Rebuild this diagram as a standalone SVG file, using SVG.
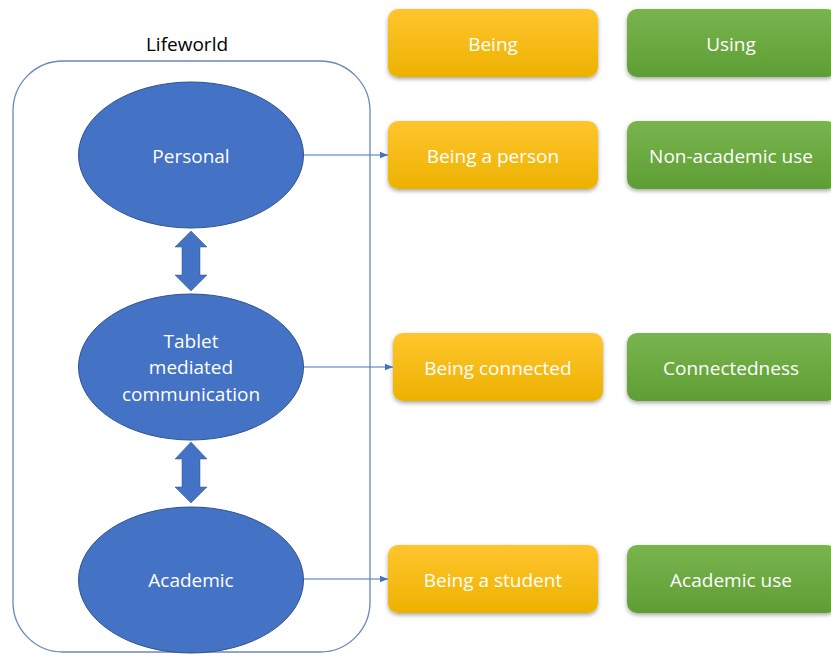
<svg xmlns="http://www.w3.org/2000/svg" width="831" height="655" viewBox="0 0 831 655">
<defs>
<linearGradient id="gy" x1="0" y1="0" x2="0" y2="1">
<stop offset="0" stop-color="#FFC52E"/><stop offset="1" stop-color="#EDB200"/>
</linearGradient>
<linearGradient id="gg" x1="0" y1="0" x2="0" y2="1">
<stop offset="0" stop-color="#79B54E"/><stop offset="1" stop-color="#5E9E34"/>
</linearGradient>
<filter id="sh" x="-10%" y="-20%" width="120%" height="150%">
<feDropShadow dx="0" dy="2" stdDeviation="2" flood-color="#000" flood-opacity="0.35"/>
</filter>
<marker id="ah" viewBox="0 0 10 10" refX="10" refY="5" markerWidth="8" markerHeight="8" markerUnits="userSpaceOnUse" orient="auto">
<path d="M0,1 L10,5 L0,9 z" fill="#4472C4"/>
</marker>
</defs>
<style>
.t{font-family:"Open Sans","Noto Sans",sans-serif;font-size:19px;fill:#fff;text-anchor:middle;dominant-baseline:central}
.e{fill:#4472C4;stroke:#2F528F;stroke-width:1}
.y{fill:url(#gy);filter:url(#sh)}
.g{fill:url(#gg);filter:url(#sh)}
.c{stroke:#4472C4;stroke-width:1;fill:none;marker-end:url(#ah)}
.da{fill:#4472C4;stroke:#2F528F;stroke-width:0.5}
</style>
<rect width="831" height="655" fill="#fff"/>
<g id="lifeworld">
<rect x="13" y="61" width="357" height="591" rx="50" ry="50" fill="none" stroke="#6A87BC" stroke-width="1.3"/>
<text x="187" y="44" class="t" style="fill:#000">Lifeworld</text>
</g>
<g id="personal"><ellipse class="e" cx="191" cy="155" rx="112.5" ry="73"/><text class="t" x="191" y="156">Personal</text></g>
<g id="tablet"><ellipse class="e" cx="191" cy="367" rx="112.5" ry="73"/>
<text class="t" x="191" y="341">Tablet</text><text class="t" x="191" y="367">mediated</text><text class="t" x="191" y="394">communication</text></g>
<g id="academic"><ellipse class="e" cx="191" cy="580" rx="112.5" ry="73"/><text class="t" x="191" y="580">Academic</text></g>
<g id="being"><rect class="y" x="388" y="9" width="210" height="68" rx="10"/><text class="t" x="493" y="44">Being</text></g>
<g id="using"><rect class="g" x="627" y="9" width="210" height="68" rx="10"/><text class="t" x="731" y="44">Using</text></g>
<g id="being-person"><rect class="y" x="388" y="121" width="210" height="68" rx="10"/><text class="t" x="493" y="156">Being a person</text></g>
<g id="non-academic"><rect class="g" x="627" y="121" width="210" height="68" rx="10"/><text class="t" x="731" y="156">Non-academic use</text></g>
<g id="being-connected"><rect class="y" x="393" y="333" width="210" height="68" rx="10"/><text class="t" x="498" y="368">Being connected</text></g>
<g id="connectedness"><rect class="g" x="627" y="333" width="210" height="68" rx="10"/><text class="t" x="731" y="368">Connectedness</text></g>
<g id="being-student"><rect class="y" x="388" y="545" width="210" height="68" rx="10"/><text class="t" x="493" y="580">Being a student</text></g>
<g id="academic-use"><rect class="g" x="627" y="545" width="210" height="68" rx="10"/><text class="t" x="731" y="580">Academic use</text></g>
<g id="connectors">
<line class="c" x1="304" y1="155" x2="388" y2="155"/>
<line class="c" x1="304" y1="367" x2="393" y2="367"/>
<line class="c" x1="304" y1="579" x2="388" y2="579"/>
<path class="da" d="M191,231 L207,247 L200,247 L200,275 L207,275 L191,291 L175,275 L182,275 L182,247 L175,247 Z"/>
<path class="da" d="M191,442 L207,459 L200,459 L200,487 L207,487 L191,503 L175,487 L182,487 L182,459 L175,459 Z"/>
</g>
</svg>
